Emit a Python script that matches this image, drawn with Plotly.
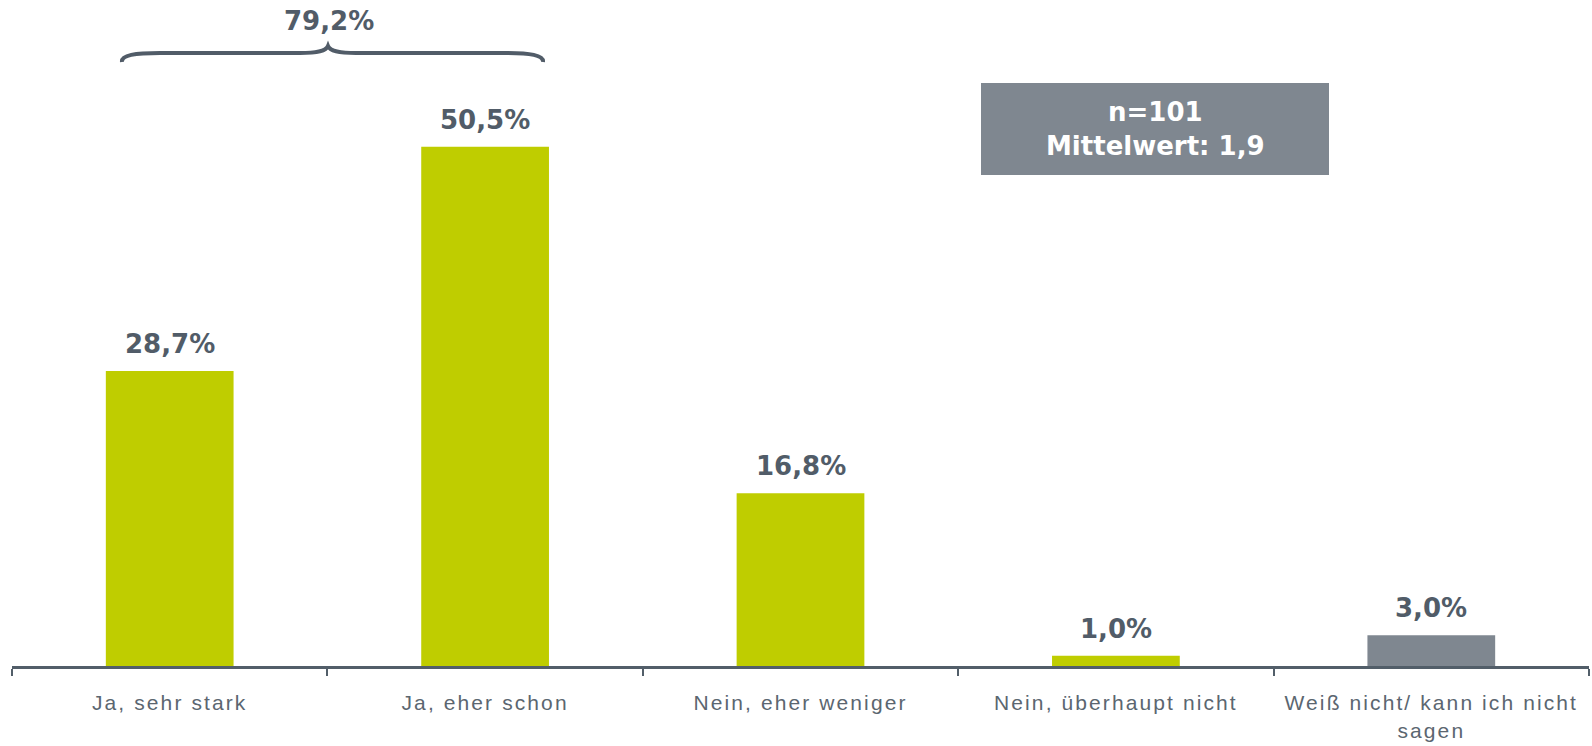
import plotly.graph_objects as go

categories = ["Ja, sehr stark", "Ja, eher schon", "Nein, eher weniger",
              "Nein, überhaupt nicht", "Weiß nicht/ kann ich nicht<br>sagen"]
values = [28.7, 50.5, 16.8, 1.0, 3.0]
bar_colors = ["#bfcd00", "#bfcd00", "#bfcd00", "#bfcd00", "#7f8790"]
sample_text = "n=101<br>Mittelwert: 1,9"
bracket_value = round(values[0] + values[1], 1)

TEXT = "#515c68"
W, H = 1592, 746
ML, MR, MT, MB = 12, 3, 0, 80
plot_w = W - ML - MR
plot_h = H - MT - MB
px_per_unit = 10.28
y_max = plot_h / px_per_unit


def fmt(v):
    return f"{v:.1f}".replace(".", ",") + "%"


def sp(txt, ls):
    return f'<span style="letter-spacing:{ls}px">{txt}</span>'


def to_x(px):
    return (px - ML) / plot_w * 5 - 0.5


def to_y(py):
    return (MT + plot_h - py) / px_per_unit


xs = list(range(len(categories)))

fig = go.Figure()
fig.add_trace(go.Bar(
    x=xs, y=values, width=0.405,
    marker=dict(color=bar_colors, line=dict(width=0)),
    hoverinfo="skip",
))

LABEL_FONT = dict(family="DejaVu Sans", size=26, color=TEXT, weight="bold")

annotations = []
for x, v in zip(xs, values):
    annotations.append(dict(
        x=x, y=v, xref="x", yref="y", text=fmt(v), showarrow=False,
        yanchor="middle", yshift=27, font=LABEL_FONT,
    ))

# bracket label
annotations.append(dict(
    x=to_x(329), y=to_y(21), xref="x", yref="y", text=fmt(bracket_value),
    showarrow=False, yanchor="middle", font=LABEL_FONT,
))

# info box text
annotations.append(dict(
    x=to_x(1155), y=to_y(129), xref="x", yref="y", text=sample_text,
    showarrow=False, yanchor="middle", align="center",
    font=dict(family="DejaVu Sans", size=26, color="white", weight="bold"),
))

# bracket path
pts = [(122, 62), (121, 55), (135, 53), (160, 53), (300, 53), (318, 53), (326, 51), (328, 46),
       (330, 51), (338, 53), (356, 53), (505, 53), (530, 53), (544, 55), (543, 62)]
c = [(to_x(a), to_y(b)) for a, b in pts]
path = (f"M {c[0][0]},{c[0][1]} C {c[1][0]},{c[1][1]} {c[2][0]},{c[2][1]} {c[3][0]},{c[3][1]} "
        f"L {c[4][0]},{c[4][1]} C {c[5][0]},{c[5][1]} {c[6][0]},{c[6][1]} {c[7][0]},{c[7][1]} "
        f"C {c[8][0]},{c[8][1]} {c[9][0]},{c[9][1]} {c[10][0]},{c[10][1]} "
        f"L {c[11][0]},{c[11][1]} C {c[12][0]},{c[12][1]} {c[13][0]},{c[13][1]} {c[14][0]},{c[14][1]}")

shapes = [
    dict(type="path", path=path, xref="x", yref="y",
         line=dict(color="#515c68", width=4)),
    dict(type="rect", xref="x", yref="y", x0=to_x(981), x1=to_x(1329),
         y0=to_y(175), y1=to_y(83), fillcolor="#7f8790", line=dict(width=0), layer="below"),
]

fig.update_layout(
    width=W, height=H,
    margin=dict(l=ML, r=MR, t=MT, b=MB),
    paper_bgcolor="white", plot_bgcolor="white",
    showlegend=False,
    annotations=annotations,
    shapes=shapes,
    xaxis=dict(
        range=[-0.5, 4.5], tickmode="array", tickvals=xs,
        ticktext=[sp(cat, 2.1) for cat in categories],
        ticks="", showgrid=False, zeroline=False,
        showline=True, linecolor="#525e69", linewidth=3,
        tickfont=dict(family="Liberation Sans, Arial", size=21, color="#5b6670"),
        ticklabelstandoff=16,
        minor=dict(tickmode="array", tickvals=[-0.5, 0.5, 1.5, 2.5, 3.5, 4.5],
                   ticks="outside", ticklen=7, tickwidth=1.5, tickcolor="#525e69",
                   showgrid=False),
        fixedrange=True,
    ),
    yaxis=dict(range=[0, y_max], visible=False, fixedrange=True),
)

fig.write_html("out.html", config={"displayModeBar": False})
